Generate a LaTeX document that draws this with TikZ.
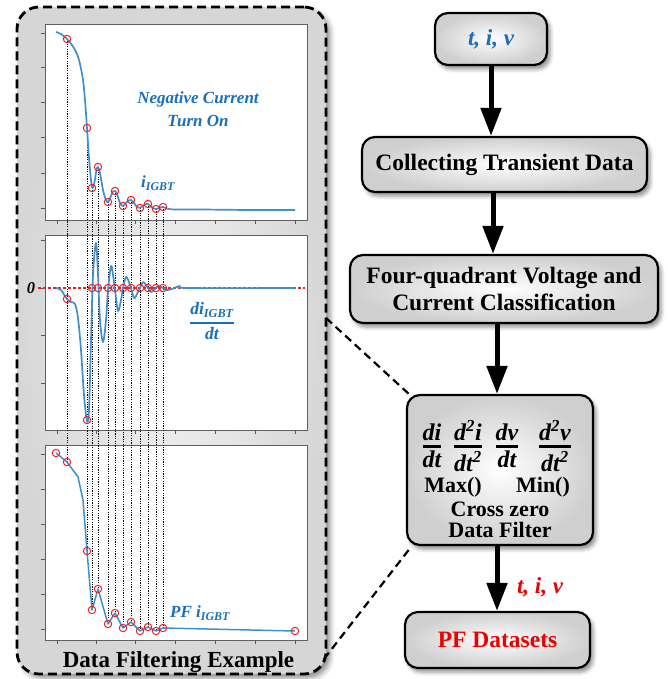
\documentclass[tikz,border=0pt]{standalone}
\usepackage{fontspec}
\setmainfont{Liberation Serif}
\usetikzlibrary{arrows.meta,shadows.blur,calc}

\definecolor{curveblue}{RGB}{64,144,206}
\definecolor{labelblue}{RGB}{24,112,188}
\definecolor{markred}{RGB}{236,34,34}
\definecolor{pfred}{RGB}{236,0,0}

\newcommand{\setfs}[2]{\fontsize{#1}{#2}\selectfont}
% stacked fraction with a rule of chosen thickness
\newcommand{\stackfrac}[3][2.8pt]{%
  \begingroup
  \setbox0=\hbox{#2}\setbox2=\hbox{#3}%
  \dimen0=\wd0 \ifdim\wd2>\dimen0 \dimen0=\wd2\fi
  \vbox{\offinterlineskip\halign{\hfil##\hfil\cr
    \box0\cr\noalign{\kern4pt}%
    \vrule width\dimen0 height#1\cr\noalign{\kern3.5pt}%
    \box2\cr}}%
  \endgroup}

\tikzset{
  panel/.style={draw=black, line width=2.8pt, dash pattern=on 9pt off 5pt,
    rounded corners=22pt, inner color=gray!10, outer color=gray!32,
    blur shadow={shadow xshift=4pt, shadow yshift=-4pt, shadow blur radius=5pt, shadow opacity=45}},
  flowbox/.style={draw=black, line width=2.2pt, rounded corners=13pt, inner sep=0pt,
    inner color=white, outer color=gray!38, align=center,
    blur shadow={shadow xshift=3pt, shadow yshift=-4pt, shadow blur radius=4pt, shadow opacity=45},
    font=\setfs{23.5}{27}\bfseries},
  flowarrow/.style={line width=5pt, -{Triangle[length=28pt,width=20pt]}},
  plotframe/.style={draw=gray!75!black, line width=0.8pt, fill=white},
  ticks/.style={draw=gray!70!black, line width=0.7pt},
  icurve/.style={draw=curveblue, line width=1.7pt, line join=round},
  redmark/.style={draw=markred, line width=1pt},
  guide/.style={draw=black, line width=0.9pt, dash pattern=on 1.2pt off 1.2pt},
  zeroline/.style={draw=markred, line width=1.1pt, dash pattern=on 3pt off 2pt},
  plotlabel/.style={text=labelblue, font=\setfs{17}{23}\bfseries\itshape, align=center, inner sep=0pt},
  zoomline/.style={draw=black, line width=2.2pt, dash pattern=on 8pt off 5pt},
  boxtext/.style={font=\setfs{22}{26}\bfseries, inner sep=0pt},
  boxfrac/.style={font=\setfs{24}{27}\bfseries\itshape, inner sep=0pt},
}

\begin{document}
\begin{tikzpicture}[x=1pt,y=-1pt]
\useasboundingbox (0,0) rectangle (667,679);

% ---------- left panel with the three waveforms ----------
\node[panel, minimum width=309pt, minimum height=667pt] (panel) at (171.5,340.5) {};

\draw[plotframe] (45,24) rectangle (307,220);
\draw[plotframe] (45,235) rectangle (307,430);
\draw[plotframe] (45,445) rectangle (307,640);

% axis ticks
\foreach \ty in {33,67,102,137,173,208} \draw[ticks] (41,\ty) -- (45,\ty);
\foreach \ty in {240,288,335,383} \draw[ticks] (41,\ty) -- (45,\ty);
\foreach \ty in {454,489,524,559,594,629} \draw[ticks] (41,\ty) -- (45,\ty);
\foreach \tx in {57,96,135,175,215,255,295} {
  \draw[ticks] (\tx,220) -- (\tx,224);
  \draw[ticks] (\tx,430) -- (\tx,434);
  \draw[ticks] (\tx,640) -- (\tx,644);
}

% zero level of the derivative
\draw[zeroline] (38,288) -- (305,288);
\node[font=\setfs{16.5}{18}\bfseries\itshape, inner sep=0pt] (zerolbl) at (31,288) {0};

% guide lines through the selected samples
\foreach \gx/\ga/\gb in {67/39/462, 87/128/551, 92/188/610, 98/167/589, 108/202/624,
    115/191/613, 123/206/628, 131/200/622, 140/208/631, 148/204/627, 156/209/631, 163/207/628}
  \draw[guide] (\gx,\ga) -- (\gx,\gb);

% measured current
\draw[icurve] plot[smooth, tension=0.55] coordinates {
  (56,32) (61,34) (67,39) (72,45) (77,54) (80,64) (83,80) (85,100) (87,128)
  (89,158) (91,180) (92.5,188) (94.5,182) (96.5,170) (98,167) (100,173) (103,190)
  (106,200) (108,202) (111,196) (113,191.5) (115,191) (117,194) (120,203) (123,206)
  (126,203) (128.5,200.5) (131,200) (134,203) (137,207) (140,208) (144,205) (148,204)
  (152,207.5) (156,209) (160,207.5) (163,207) (167,208.5) (175,209.5) (200,209.5)
  (250,210) (295,210)};

% derivative of the current
\draw[icurve] plot[smooth, tension=0.55] coordinates {
  (56,288) (61,290) (67,299) (71,302) (75,304) (78,318) (81,350) (84,395) (87,421)
  (89,410) (91,340) (93,275) (96,243) (98,275) (100,320) (103,342) (106,320) (108,290)
  (111,266) (113,275) (115,290) (118,311) (121,300) (123,288) (126,277) (129,282)
  (131,288) (134,298) (137,294) (140,288) (143,282) (146,285) (148,288) (151,292)
  (154,290) (156,288) (159,286) (163,288) (167,290) (172,289) (180,286) (188,288)
  (295,288)};

% filtered current
\draw[icurve, line width=1.5pt] (56,453) -- (67,462) -- (78,477) -- (83,500) -- (87,551)
  -- (92,610) -- (98,589) -- (108,624) -- (115,613) -- (123,628) -- (131,622)
  -- (140,631) -- (148,627) -- (156,631) -- (163,628) -- (295,631);

% selected samples
\foreach \gx/\ga/\gb in {67/39/462, 87/128/551, 92/188/610, 98/167/589, 108/202/624,
    115/191/613, 123/206/628, 131/200/622, 140/208/631, 148/204/627, 156/209/631, 163/207/628} {
  \draw[redmark] (\gx,\ga) circle[radius=3.7];
  \draw[redmark] (\gx,\gb) circle[radius=3.7];
}
\draw[redmark] (56,453) circle[radius=3.7];
\draw[redmark] (295,631) circle[radius=3.7];
\draw[redmark] (67,299) circle[radius=3.7];
\draw[redmark] (87,420) circle[radius=3.7];
\foreach \gx in {92,98,108,115,123,131,140,148,156,163}
  \draw[redmark] (\gx,288) circle[radius=3.7];

% waveform labels
\node[plotlabel] (turnon) at (198,109.5) {Negative Current\\Turn On};
\node[plotlabel] (ilbl) at (158,183) {i\textsubscript{IGBT}};
\node[plotlabel, font=\setfs{17.5}{20}\bfseries\itshape] (dilbl) at (212,321) {\stackfrac[2pt]{di\textsubscript{IGBT}}{dt}};
\node[plotlabel] (pflbl) at (200,613) {PF i\textsubscript{IGBT}};

\node[font=\setfs{23}{27}\bfseries, anchor=base, inner sep=0pt] (paneltitle) at (178.5,667) {Data Filtering Example};

% ---------- flow chart ----------
\node[flowbox, minimum width=112pt, minimum height=52pt, text=labelblue, font=\setfs{23}{27}\bfseries\itshape] (b1) at (491,39) {t, i, v};
\node[flowbox, minimum width=285pt, minimum height=55pt] (b2) at (504.5,164.5) {Collecting Transient Data};
\node[flowbox, minimum width=308pt, minimum height=68pt] (b3) at (504,289) {Four-quadrant Voltage and\\Current Classification};
\node[flowbox, minimum width=186pt, minimum height=150pt] (b4) at (500,470) {};
\node[flowbox, minimum width=185pt, minimum height=56pt, text=pfred] (b5) at (497.5,640) {PF Datasets};

% contents of the filter box
\node[boxfrac] (f1) at (432,446) {\stackfrac{di}{dt}};
\node[boxfrac] (f2) at (468,446) {\stackfrac{d\textsuperscript{2}i}{dt\textsuperscript{2}}};
\node[boxfrac] (f3) at (507,446) {\stackfrac{dv}{dt}};
\node[boxfrac] (f4) at (555,446) {\stackfrac{d\textsuperscript{2}v}{dt\textsuperscript{2}}};
\node[boxtext] (fmax) at (453,487) {Max()};
\node[boxtext] (fmin) at (543,487) {Min()};
\node[boxtext] (fcross) at (500,509) {Cross zero};
\node[boxtext] (ffilter) at (500,530) {Data Filter};

% arrows
\coordinate (ax1) at (491,0);
\coordinate (ax2) at (493,0);
\coordinate (ax3) at (497,0);
\draw[flowarrow] (b1.south -| ax1) -- (b2.north -| ax1);
\draw[flowarrow] (b2.south -| ax2) -- (b3.north -| ax2);
\draw[flowarrow] (b3.south -| ax3) -- (b4.north -| ax3);
\draw[flowarrow] (b4.south -| ax3) -- (b5.north -| ax3);
\node[font=\setfs{23}{27}\bfseries\itshape, text=pfred, inner sep=0pt] (outlbl) at (540,587) {t, i, v};

% zoom lines from the panel to the filter box
\coordinate (zA) at (326,318);
\coordinate (zB) at (324,659);
\draw[zoomline] (zA) -- ($(b4.north west)+(4,1)$);
\draw[zoomline] (zB) -- ($(b4.south west)+(5,1)$);
\end{tikzpicture}
\end{document}
